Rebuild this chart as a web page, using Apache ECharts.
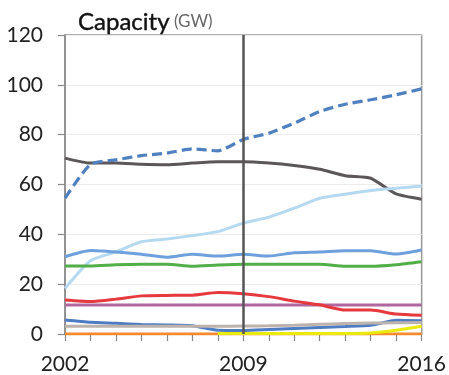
<!DOCTYPE html>
<html><head><meta charset="utf-8">
<script src="https://cdn.jsdelivr.net/npm/echarts@6/dist/echarts.min.js"></script>
<style>html,body{margin:0;padding:0;background:#fff}#c{width:449px;height:375px}</style>
</head><body><div id="c"></div>
<script>
var years = ['2002','2003','2004','2005','2006','2007','2008','2009','2010','2011','2012','2013','2014','2015','2016'];
var yTicks = [0,20,40,60,80,100,120];
var xLabelYears = ['2002','2009','2016'];
var dashedBlue = [54.5,68.1,69.9,71.6,72.6,74.3,73.5,78.1,80.6,84.6,89.3,92.2,94.0,96.0,98.4];
var darkGray   = [70.6,68.6,68.6,68.1,67.9,68.6,69.1,69.1,68.6,67.6,66.1,63.5,62.5,56.2,54.1];
var lightBlue  = [18.3,29.4,33.0,37.0,38.1,39.5,41.1,44.5,46.9,50.5,54.5,56.1,57.6,58.5,59.4];
var midBlue    = [31.0,33.5,32.9,32.0,30.8,32.0,31.3,32.0,31.3,32.6,32.9,33.4,33.4,32.1,33.7];
var green      = [27.3,27.3,27.8,28.0,28.0,27.2,27.7,28.0,28.0,28.0,28.0,27.2,27.2,27.8,29.0];
var red        = [13.6,13.0,14.0,15.3,15.5,15.6,16.7,16.2,15.0,13.2,11.7,9.6,9.6,8.0,7.5];
var purple     = [11.6,11.6,11.6,11.6,11.6,11.6,11.6,11.6,11.6,11.6,11.6,11.6,11.6,11.6,11.6];
var darkBlue   = [5.6,4.7,4.3,3.8,3.6,3.3,1.5,1.4,1.8,2.2,2.6,3.0,3.5,5.5,5.3];
var tan        = [3.1,3.1,3.1,3.1,3.1,3.1,3.1,3.2,3.3,3.5,3.9,4.2,4.4,4.5,4.6];
var yellow     = [null,null,null,null,null,null,0.2,0.2,0.2,0.2,0.2,0.2,0.4,1.5,3.1];
var orange     = [0,0,0,0,0,0,0,0,0,0,0,0,0,0,0];
var markYear = '2009';

var FONT = 'Lato';
function ln(name, data, color, z, extra) {
  var s = {name:name, type:'line', data:data, symbol:'none', smooth:0.2, z:z,
    lineStyle:{color:color, width:3}, itemStyle:{color:color}};
  if (extra) for (var k in extra) s[k]=extra[k];
  return s;
}
var series = [
  ln('orange', orange, '#f58a2e', 2),
  ln('yellow', yellow, '#eaea0c', 3),
  ln('darkBlue', darkBlue, '#4d7cc2', 4),
  ln('tan', tan, '#bdb3ac', 5),
  ln('purple', purple, '#b0669e', 6),
  ln('red', red, '#e5393e', 7),
  ln('darkGray', darkGray, '#5b5657', 8),
  ln('lightBlue', lightBlue, '#b5d9f0', 9),
  ln('green', green, '#52ae48', 10),
  ln('midBlue', midBlue, '#6da0dc', 11),
  ln('dashedBlue', dashedBlue, '#4f81c0', 12, {lineStyle:{color:'#4f81c0', width:3.2, type:[10,5]}})
];
series[0].markLine = {silent:true, symbol:'none', label:{show:false}, z:20,
  lineStyle:{color:'#555', width:2.5, type:'solid'}, data:[{xAxis:markYear}]};

var chart = echarts.init(document.getElementById('c'), null, {renderer:'canvas'});
chart.setOption({
  animation:false,
  title:{text:'{a|Capacity}{b| (GW)}', left:73, top:5,
    textStyle:{rich:{a:{fontFamily:FONT, fontSize:24, fontWeight:'normal', color:'#111', textBorderColor:'#111', textBorderWidth:0.4}, b:{fontFamily:FONT, fontSize:17, fontWeight:'normal', color:'#666'}}}},
  grid:{left:65, right:26, top:35, bottom:41, show:true, borderColor:'#999', borderWidth:1.5, backgroundColor:'transparent'},
  xAxis:{type:'category', data:years, boundaryGap:false,
    axisLine:{lineStyle:{color:'#888', width:1.5}},
    axisTick:{show:true, interval:0, length:7, inside:false, lineStyle:{color:'#888', width:1.2}},
    axisLabel:{interval:function(i,v){return xLabelYears.indexOf(v)>=0;}, margin:20, fontFamily:FONT, fontSize:21, color:'#222', showMaxLabel:true, showMinLabel:true},
    splitLine:{show:false}},
  yAxis:{type:'value', min:yTicks[0], max:yTicks[yTicks.length-1], interval:20,
    axisLine:{show:true, lineStyle:{color:'#888', width:1.5}},
    axisTick:{show:true, length:7, lineStyle:{color:'#888', width:1.2}},
    axisLabel:{margin:22, fontFamily:FONT, fontSize:21, color:'#222'},
    splitLine:{show:true, lineStyle:{color:'#ececec', width:1}}},
  series:series
});
</script></body></html>
